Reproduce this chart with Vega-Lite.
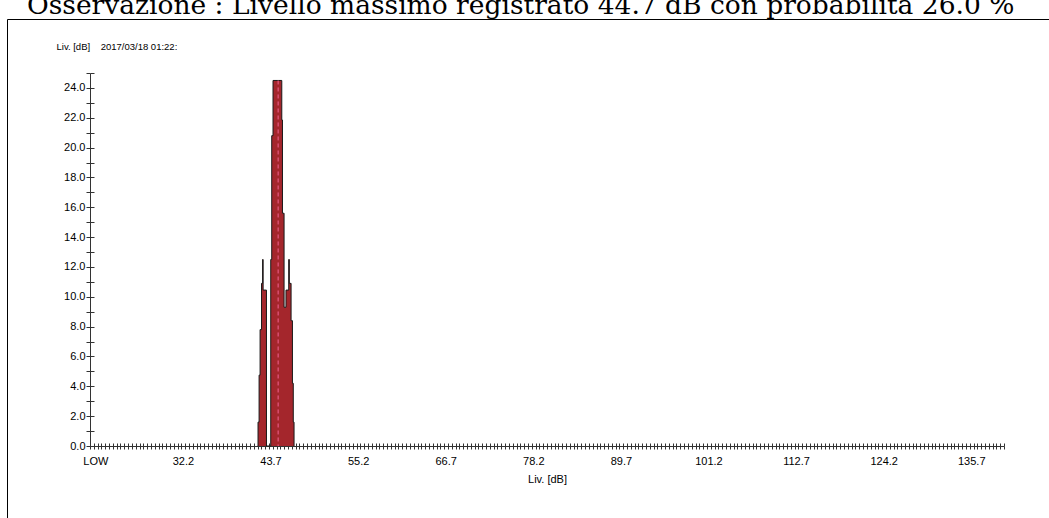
{
  "$schema": "https://vega.github.io/schema/vega-lite/v6.json",
  "width": 1042,
  "height": 499,
  "autosize": "none",
  "padding": {"left": 7, "top": 19, "right": 0, "bottom": 0},
  "background": "white",
  "view": {"stroke": "#000", "strokeWidth": 1},
  "title": {
    "text": "Osservazione : Livello massimo registrato 44.7 dB con probabilità 26.0 %",
    "font": "DejaVu Serif", "fontSize": 26.5, "fontWeight": "normal", "color": "#000",
    "anchor": "start", "frame": "group", "dx": 20, "offset": 0
  },
  "datasets": {
    "hist": [
      {"level": 42.02, "pct": 0},
      {"level": 42.06, "pct": 1.6},
      {"level": 42.20, "pct": 4.75},
      {"level": 42.33, "pct": 7.8},
      {"level": 42.52, "pct": 10.9},
      {"level": 42.66, "pct": 12.5},
      {"level": 42.73, "pct": 10.45},
      {"level": 43.17, "pct": 0},
      {"level": 43.73, "pct": 12.5},
      {"level": 43.86, "pct": 20.8},
      {"level": 44.03, "pct": 24.5},
      {"level": 45.18, "pct": 21.85},
      {"level": 45.27, "pct": 15.6},
      {"level": 45.48, "pct": 9.3},
      {"level": 45.73, "pct": 10.45},
      {"level": 46.09, "pct": 12.5},
      {"level": 46.17, "pct": 10.9},
      {"level": 46.40, "pct": 8.4},
      {"level": 46.58, "pct": 4.2},
      {"level": 46.69, "pct": 1.6},
      {"level": 46.79, "pct": 0}
    ],
    "marker": [{"level": 44.7, "pct": 24.5, "base": 0}]
  },
  "resolve": {
    "scale": {"x": "independent", "y": "independent"},
    "axis": {"x": "independent", "y": "independent"}
  },
  "layer": [
    {
      "data": {"name": "hist"},
      "mark": {"type": "area", "interpolate": "step-after", "color": "#a4262c", "opacity": 1},
      "encoding": {
        "x": {
          "field": "level", "type": "quantitative",
          "scale": {"domain": [20, 140], "range": [83, 997], "nice": false, "zero": false},
          "axis": {
            "orient": "bottom",
            "values": [20.7, 32.2, 43.7, 55.2, 66.7, 78.2, 89.7, 101.2, 112.7, 124.2, 135.7],
            "labelExpr": "datum.value < 21 ? 'LOW' : format(datum.value, '.1f')",
            "ticks": false, "tickSize": 0, "domain": true, "domainColor": "#333", "domainWidth": 1,
            "offset": -72, "grid": false,
            "labelFont": "Liberation Sans", "labelFontSize": 11, "labelColor": "#000",
            "labelPadding": 9, "labelOverlap": false, "labelFlush": false,
            "title": "Liv. [dB]", "titleFont": "Liberation Sans", "titleFontSize": 11,
            "titleFontWeight": "normal", "titleColor": "#000", "titlePadding": 7
          }
        },
        "y": {
          "field": "pct", "type": "quantitative",
          "scale": {"domain": [0, 25], "range": [427, 54], "nice": false, "zero": true},
          "axis": {
            "orient": "left",
            "tickCount": 25,
            "labelExpr": "datum.value % 2 == 0 ? format(datum.value, '.1f') : ''",
            "offset": -83, "tickSize": 4, "tickColor": "#333", "domain": true,
            "domainColor": "#333", "domainWidth": 1, "grid": false,
            "labelFont": "Liberation Sans", "labelFontSize": 11, "labelColor": "#000",
            "labelPadding": 1, "labelOverlap": false, "labelFlush": false,
            "title": "Liv. [dB]\u00a0\u00a0\u00a0\u00a02017/03/18 01:22:",
            "titleFont": "Liberation Sans", "titleFontSize": 9.5, "titleFontWeight": "normal",
            "titleColor": "#000", "titleAngle": 0, "titleAlign": "left",
            "titleBaseline": "alphabetic", "titleX": -34, "titleY": 30
          }
        }
      }
    },
    {
      "data": {"name": "hist"},
      "mark": {"type": "line", "interpolate": "step-after", "color": "#1a1a1a", "strokeWidth": 1},
      "encoding": {
        "x": {
          "field": "level", "type": "quantitative",
          "scale": {"domain": [20, 140], "range": [83, 997], "nice": false, "zero": false},
          "axis": {
            "orient": "bottom",
            "tickCount": 240, "labels": false, "domain": false, "ticks": true,
            "tickSize": 3, "tickColor": "#333", "offset": -72, "grid": false, "title": null
          }
        },
        "y": {
          "field": "pct", "type": "quantitative",
          "scale": {"domain": [0, 25], "range": [427, 54], "nice": false, "zero": true},
          "axis": {
            "orient": "left",
            "tickCount": 25, "labels": false, "domain": false, "ticks": true,
            "tickSize": 4, "tickColor": "#333", "offset": -87, "grid": false, "title": null
          }
        }
      }
    },
    {
      "data": {"name": "marker"},
      "mark": {"type": "rule", "color": "#f06292", "strokeDash": [4, 3], "strokeWidth": 1},
      "encoding": {
        "x": {
          "field": "level", "type": "quantitative",
          "scale": {"domain": [20, 140], "range": [83, 997], "nice": false, "zero": false},
          "axis": {
            "orient": "bottom",
            "tickCount": 240, "labels": false, "domain": false, "ticks": true,
            "tickSize": 3, "tickColor": "#333", "offset": -75, "grid": false, "title": null
          }
        },
        "y": {
          "field": "pct", "type": "quantitative",
          "scale": {"domain": [0, 25], "range": [427, 54], "nice": false, "zero": true},
          "axis": null
        },
        "y2": {"field": "base"}
      }
    }
  ]
}
